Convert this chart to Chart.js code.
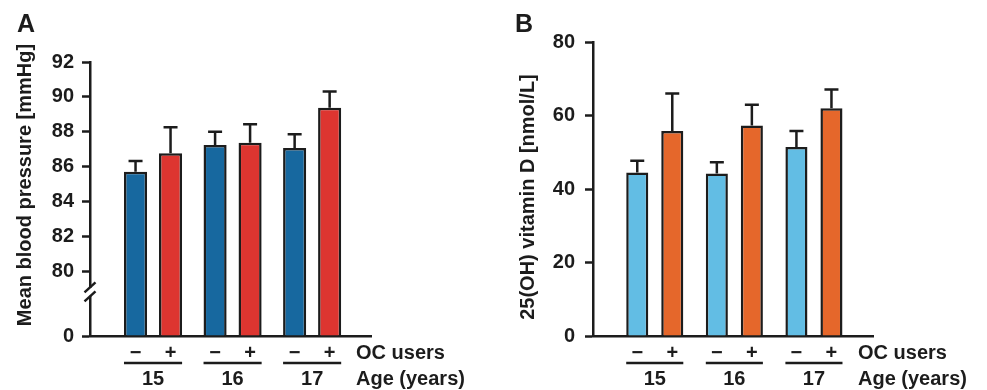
<!DOCTYPE html>
<html>
<head>
<meta charset="utf-8">
<script src="https://cdn.jsdelivr.net/npm/chart.js@4.4.1/dist/chart.umd.min.js"></script>
<style>
html, body { margin: 0; padding: 0; background: #fff; }
#wrap { position: relative; width: 987px; height: 390px; }
.panel { position: absolute; top: 0; height: 390px; }
</style>
</head>
<body>
<div id="wrap">
  <div class="panel" style="left:0;width:493px"><canvas id="chartA" width="493" height="390"></canvas></div>
  <div class="panel" style="left:493px;width:494px"><canvas id="chartB" width="494" height="390"></canvas></div>
</div>
<script>
/* data */
const ages = ["15", "16", "17"];
const ocUsers = ["\u2212", "+"];

const bpNonUsers    = [85.70, 87.24, 87.06];
const bpNonUsersErr = [0.62, 0.76, 0.79];
const bpUsers       = [86.76, 87.37, 89.38];
const bpUsersErr    = [1.49, 1.05, 0.92];
const bpTicks       = [0, 80, 82, 84, 86, 88, 90, 92];

const vdNonUsers    = [44.5, 44.2, 51.4];
const vdNonUsersErr = [3.2, 3.1, 4.4];
const vdUsers       = [55.8, 57.3, 62.0];
const vdUsersErr    = [10.2, 5.6, 5.1];
const vdTicks       = [0, 20, 40, 60, 80];

const FONT = "'Liberation Sans', Arial, Helvetica, sans-serif";
const INK = "#1c1c1c";

/* broken axis for panel A: 0..80 squeezed, 80..92 linear */
const GAP = 3.73;
function bpT(v){ return v >= 80 ? GAP + (v - 80) : v * GAP / 80; }
function same(v){ return v; }

function decor(o){
  return {
    id: "decor" + o.letter,
    afterDatasetsDraw(chart){
        let ctx = chart.ctx, y = chart.scales.y;
        ctx.save();
        ctx.strokeStyle = INK;
        ctx.lineWidth = 2.5;
        chart.data.datasets.forEach((ds, di) => {
            chart.getDatasetMeta(di).data.forEach((bar, i) => {
                let top = y.getPixelForValue(o.tf(ds.means[i] + ds.errs[i]));
                ctx.beginPath();
                ctx.moveTo(bar.x, bar.y);
                ctx.lineTo(bar.x, top);
                ctx.moveTo(bar.x - 7, top);
                ctx.lineTo(bar.x + 7, top);
                ctx.stroke();
            });
        });
        ctx.restore();
    },
    afterDraw(chart){
        let ctx = chart.ctx, area = chart.chartArea, y = chart.scales.y;
        ctx.save();
        ctx.fillStyle = INK;
        ctx.strokeStyle = INK;

        // panel letter
        ctx.font = "bold 25px " + FONT;
        ctx.textAlign = "left";
        ctx.textBaseline = "alphabetic";
        ctx.fillText(o.letter, o.letterX, 32);

        // y title
        ctx.save();
        ctx.translate(o.titleX, o.titleY);
        ctx.rotate(-Math.PI / 2);
        ctx.font = "bold 20px " + FONT;
        ctx.textAlign = "center";
        ctx.textBaseline = "middle";
        ctx.fillText(o.title, 0, 0);
        ctx.restore();

        // x labels under bars
        ctx.font = "bold 20px " + FONT;
        ctx.textAlign = "center";
        ctx.textBaseline = "middle";
        let m0 = chart.getDatasetMeta(0).data, m1 = chart.getDatasetMeta(1).data;
        ages.forEach((a, i) => {
            ctx.fillText(ocUsers[0], m0[i].x, area.bottom + 17);
            ctx.fillText(ocUsers[1], m1[i].x, area.bottom + 17);
            let l = m0[i].x - m0[i].width / 2, r = m1[i].x + m1[i].width / 2;
            ctx.lineWidth = 2.5;
            ctx.beginPath();
            ctx.moveTo(l, area.bottom + 27);
            ctx.lineTo(r, area.bottom + 27);
            ctx.stroke();
            ctx.fillText(a, (m0[i].x + m1[i].x) / 2, area.bottom + 43);
        });
        ctx.textAlign = "left";
        ctx.fillText("OC users", area.right - 15, area.bottom + 17);
        ctx.fillText("Age (years)", area.right - 15, area.bottom + 43);

        // axis break
        if (o.broken) {
            let y0 = y.getPixelForValue(o.tf(0)), y80 = y.getPixelForValue(o.tf(80));
            let yb = y0 + (y80 - y0) * 0.68, x = area.left;
            ctx.fillStyle = "#fff";
            ctx.fillRect(x - 3, yb - 4, 6, 8);
            ctx.lineWidth = 2.5;
            [-4.5, 4.5].forEach(d => {
                ctx.beginPath();
                ctx.moveTo(x - 5.5, yb + d + 5);
                ctx.lineTo(x + 5.5, yb + d - 5);
                ctx.stroke();
            });
        }
        ctx.restore();
    }
  };
}

function buildChart(id, o){
    return new Chart(document.getElementById(id), {
        type: "bar",
        data: {
            datasets: o.series.map(s => ({
                data: s.values.map((v, i) => ({x: i + 1, y: o.tf(v)})),
                means: s.values,
                errs: s.errors,
                backgroundColor: s.color,
                borderColor: INK,
                borderWidth: 2.5,
                categoryPercentage: 0.88,
                barPercentage: o.barPct
            }))
        },
        options: {
            responsive: false,
            animation: false,
            layout: {padding: {left: 0, right: o.padRight, top: o.padTop, bottom: 54}},
            plugins: {legend: {display: false}, tooltip: {enabled: false}},
            scales: {
                x: {
                    type: "linear", min: o.xMin, max: o.xMax, offset: false,
                    grid: {display: false, drawTicks: false, offset: false},
                    ticks: {display: false},
                    border: {display: true, color: INK, width: 2.5},
                    afterBuildTicks: s => { s.ticks = ages.map((a, i) => ({value: i + 1})); },
                    afterFit: s => { s.height = 0; }
                },
                y: {
                    min: 0, max: o.tf(o.ticks[o.ticks.length - 1]),
                    afterBuildTicks: s => { s.ticks = o.ticks.map(v => ({value: o.tf(v)})); },
                    afterFit: s => { s.width = o.axisX; },
                    ticks: {
                        autoSkip: false,
                        callback: (v, i) => String(o.ticks[i]),
                        font: {family: FONT, size: 20, weight: "bold"},
                        color: INK,
                        padding: o.tickPad
                    },
                    grid: {drawOnChartArea: false, tickLength: 8, tickWidth: 2.5, tickColor: INK},
                    border: {color: INK, width: 2.5}
                }
            }
        },
        plugins: [decor(o)]
    });
}

buildChart("chartA", {
    letter: "A", letterX: 17,
    title: "Mean blood pressure [mmHg]", titleX: 25, titleY: 185,
    tf: bpT, ticks: bpTicks, broken: true,
    axisX: 90, padRight: 122, padTop: 62, tickPad: 8,
    xMin: 0.2075, xMax: 3.74, barPct: 0.66,
    series: [
        {values: bpNonUsers, errors: bpNonUsersErr, color: "#17689f"},
        {values: bpUsers, errors: bpUsersErr, color: "#dd3530"}
    ]
});

buildChart("chartB", {
    letter: "B", letterX: 22,
    title: "25(OH) vitamin D [nmol/L]", titleX: 35, titleY: 197,
    tf: same, ticks: vdTicks, broken: false,
    axisX: 100, padRight: 114, padTop: 42, tickPad: 10,
    xMin: 0.224, xMax: 3.742, barPct: 0.63,
    series: [
        {values: vdNonUsers, errors: vdNonUsersErr, color: "#62bde4"},
        {values: vdUsers, errors: vdUsersErr, color: "#e5672b"}
    ]
});
</script>
</body>
</html>
